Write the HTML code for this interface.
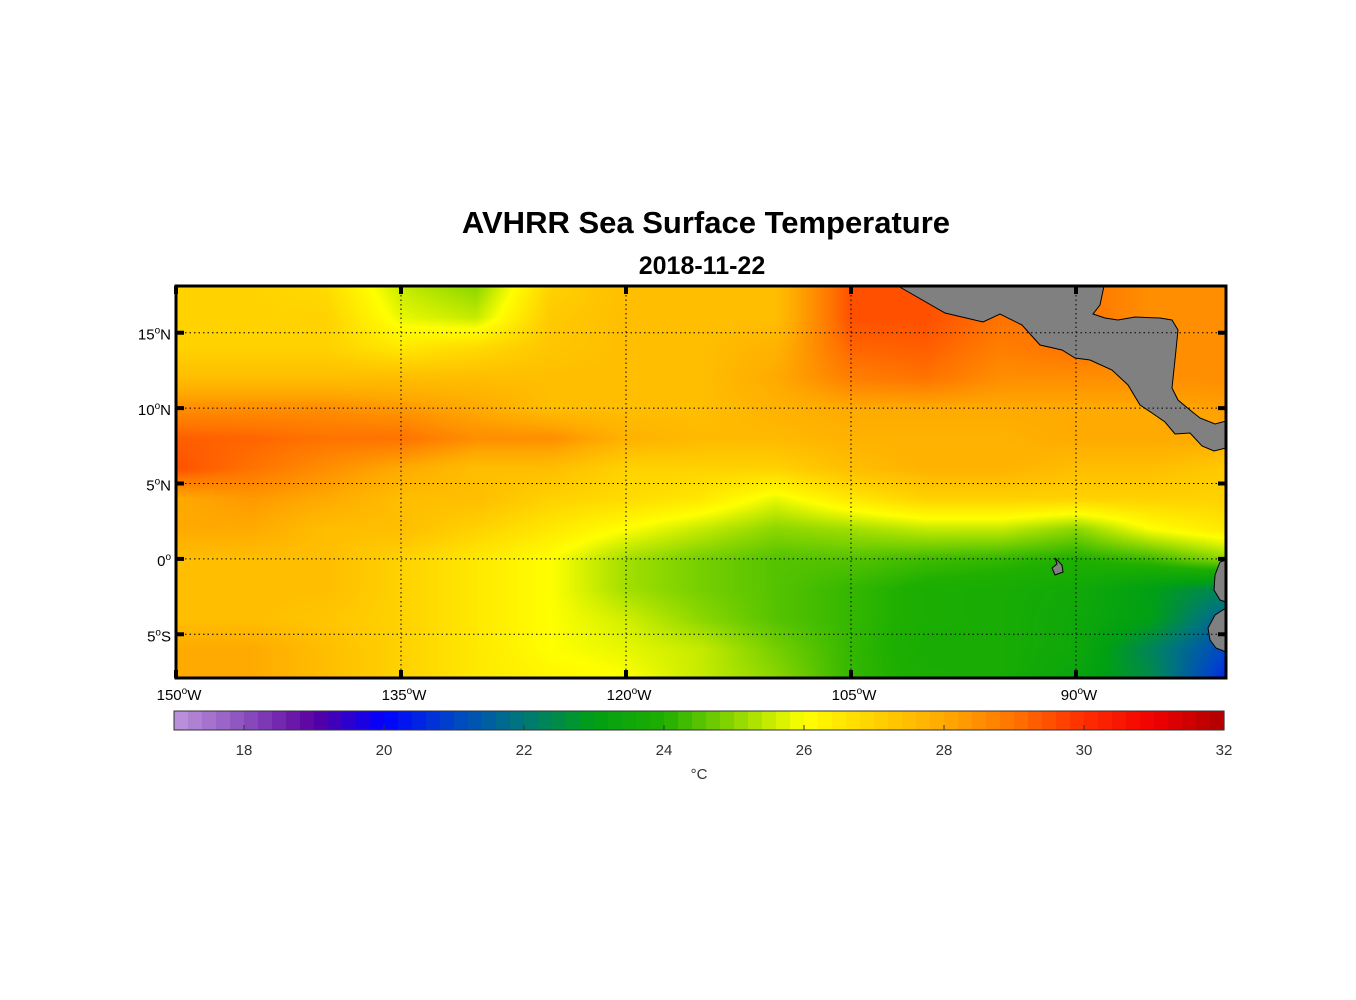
<!DOCTYPE html>
<html><head><meta charset="utf-8">
<style>
body{margin:0;background:#fff;font-family:"Liberation Sans",sans-serif;}
#wrap{position:relative;width:1356px;height:1000px;overflow:hidden;}
.t{position:absolute;color:#000;white-space:nowrap;}
</style></head>
<body><div id="wrap">
<div class="t" style="left:0;width:1412px;text-align:center;top:205px;font-size:31px;font-weight:bold;">AVHRR Sea Surface Temperature</div>
<div class="t" style="left:0;width:1404px;text-align:center;top:252px;font-size:25px;font-weight:bold;">2018-11-22</div>
<canvas id="map" width="1050" height="392" style="position:absolute;left:176px;top:286px;"></canvas>
<svg id="ov" width="1356" height="1000" style="position:absolute;left:0;top:0;"></svg>
</div>
<script>
const lons=[-150,-145,-140,-135,-130,-125,-120,-115,-110,-105,-100,-95,-90,-85,-80];
const lats=[18,16,14,12,10,8,6,4,2,0,-2,-4,-6,-8];
const sst=[
[27,27,26.8,25.5,25,27,27.5,27.5,27.5,29.5,29.5,29,29,28.5,28.5],
[27,27,27,25.8,25.5,27.2,27.5,27.5,27.5,29.5,29.5,29,29,28.5,28.5],
[27,27,27,26.5,26.8,27.3,27.5,27.5,27.8,29.2,29.3,28.8,29,28.5,28.5],
[27.5,27.5,27.5,27.5,27.5,27.5,27.5,27.5,28,28.8,29,28.5,28.5,28.5,28.5],
[28.5,28.5,28.5,28.3,28,27.5,27.5,27.5,27.8,28,28,28,28,28,28.2],
[29.3,29.2,29,29,28.5,28.5,27.8,27.6,27.6,27.8,27.8,27.8,28,28,28],
[29.5,29,28.5,28,27.5,27.5,27,27,27,27.5,27.8,27.8,27.5,27.5,27.2],
[28,28.3,28,27.5,27.5,27,26.8,26.5,25.8,26.5,27,27,27,27,27],
[28,28,27.5,27.5,27,26.5,26,25.5,25,25.2,25.5,25.5,25,26,26.5],
[27.5,27.5,27.5,27,26.5,26,25.2,24.8,24.5,24.5,24.3,24.2,24,24.3,25],
[27.5,27.5,27.5,27,26.5,26,25.2,24.8,24.5,24.2,23.9,23.8,23.6,23,22.3],
[27.5,27.5,27.3,27,26.5,26,25.6,25,24.5,24.2,23.9,23.8,23.5,23,21.5],
[28,28,27.5,27,26.5,26,25.8,25.5,24.8,24.2,23.8,23.8,23.5,22.3,21],
[28,28,27.5,27,26.5,26.2,26,25.5,25,24.2,23.9,23.8,23.3,22.5,20.5]];
const cbTicks=[18,20,22,24,26,28,30,32];
const lonTicks=[-150,-135,-120,-105,-90];
const latTicks=[15,10,5,0,-5];
const stops=[[17,[190,150,220]],[18,[140,80,190]],[19,[90,0,160]],[20,[0,0,255]],[21,[0,70,200]],[22,[0,120,120]],[23,[0,160,20]],[24,[30,175,0]],[25,[140,215,0]],[26,[255,255,0]],[27,[255,210,0]],[28,[255,170,0]],[29,[255,115,0]],[30,[255,45,0]],[31,[240,0,0]],[32,[175,0,0]]];
function col(v){v=Math.max(17,Math.min(32,v));for(let i=0;i<stops.length-1;i++){const a=stops[i],b=stops[i+1];if(v<=b[0]){const t=(v-a[0])/(b[0]-a[0]);return a[1].map((c,k)=>Math.round(c+(b[1][k]-c)*t));}}return stops[stops.length-1][1];}
const X0=176,X1=1226,Y0=286,Y1=678,LON0=-150,LON1=-80,LAT0=18.1,LAT1=-7.9;
const xs=l=>X0+(l-LON0)/(LON1-LON0)*(X1-X0);
const ys=l=>Y0+(LAT0-l)/(LAT0-LAT1)*(Y1-Y0);
const cv=document.getElementById('map'),ctx=cv.getContext('2d'),img=ctx.createImageData(1050,392);
function samp(lon,lat){let fi=(lon-lons[0])/(lons[1]-lons[0]),fj=(lats[0]-lat)/(lats[0]-lats[1]);
fi=Math.max(0,Math.min(lons.length-1.001,fi));fj=Math.max(0,Math.min(lats.length-1.001,fj));
const i=Math.floor(fi),j=Math.floor(fj),u=fi-i,w=fj-j;
return sst[j][i]*(1-u)*(1-w)+sst[j][i+1]*u*(1-w)+sst[j+1][i]*(1-u)*w+sst[j+1][i+1]*u*w;}
for(let py=0;py<392;py++){const lat=LAT0-(py+0.5)/392*(LAT0-LAT1);for(let px=0;px<1050;px++){const lon=LON0+(px+0.5)/1050*(LON1-LON0);const c=col(samp(lon,lat));const k=(py*1050+px)*4;img.data[k]=c[0];img.data[k+1]=c[1];img.data[k+2]=c[2];img.data[k+3]=255;}}
ctx.putImageData(img,0,0);
const ov=document.getElementById('ov'),NS='http://www.w3.org/2000/svg';
function mk(t,a,p){const e=document.createElementNS(NS,t);for(const k in a)e.setAttribute(k,a[k]);(p||ov).appendChild(e);return e;}
const land=[
"898,286 945,313 983,322 1000,314 1022,325 1040,345 1062,350 1075,358 1090,360 1112,370 1128,385 1140,405 1152,413 1165,422 1175,434 1190,433 1202,446 1214,451 1226,448 1226,421 1215,424 1200,418 1190,410 1178,400 1172,388 1176,350 1178,330 1172,320 1160,318 1135,317 1118,320 1105,318 1093,314 1100,305 1104,286",
"1055,558 1062,565 1063,572 1055,575 1052,568 1057,564",
"1226,560 1220,562 1215,575 1214,590 1220,600 1226,602",
"1226,608 1215,615 1208,628 1210,640 1216,648 1226,652"];
const lnames=['central-america','galapagos-island','south-america-coast-north','south-america-coast-south'];
land.forEach((p,i)=>{const e=mk('polygon',{points:p,fill:'#808080',stroke:'#000','stroke-width':1});

});
lonTicks.slice(1).forEach(l=>{const e=mk('line',{x1:xs(l),x2:xs(l),y1:Y0,y2:Y1,stroke:'#000','stroke-width':1,'stroke-dasharray':'1.5 3'});

});
latTicks.forEach(l=>{const e=mk('line',{x1:X0,x2:X1,y1:ys(l),y2:ys(l),stroke:'#000','stroke-width':1,'stroke-dasharray':'1.5 3'});

});
const fr=mk('rect',{x:X0,y:Y0,width:X1-X0,height:Y1-Y0,fill:'none',stroke:'#000','stroke-width':3});


function lab(x,y,txt,sup,suf,anchor,name){const t=mk('text',{x:x,y:y,'font-size':15,'font-family':'Liberation Sans, sans-serif','text-anchor':anchor,fill:'#000'});


const a=mk('tspan',{},t);a.textContent=txt;const b=mk('tspan',{dy:-6,'font-size':10},t);b.textContent=sup;const c=mk('tspan',{dy:6},t);c.textContent=suf;}
lonTicks.forEach(l=>{const x=xs(l);
const e=mk('line',{x1:x,x2:x,y1:Y0,y2:Y0+8,stroke:'#000','stroke-width':4});
const e2=mk('line',{x1:x,x2:x,y1:Y1-8,y2:Y1,stroke:'#000','stroke-width':4});
lab(x+3,700,String(-l),'o','W','middle','lon-tick-label');});
latTicks.forEach(l=>{const y=ys(l);
const e=mk('line',{x1:X0,x2:X0+8,y1:y,y2:y,stroke:'#000','stroke-width':4});
const e2=mk('line',{x1:X1-8,x2:X1,y1:y,y2:y,stroke:'#000','stroke-width':4});
lab(171,y+7,l===0?'0':String(Math.abs(l)),'o',l>0?'N':(l<0?'S':''),'end','lat-tick-label');});
const CB0=174,CB1=1224,CBY=711,CBH=19,V0=17,V1=32;
const cx=v=>CB0+(v-V0)/(V1-V0)*(CB1-CB0);
for(let v=V0;v<V1-0.001;v+=0.2){const c=col(v+0.1);const e=mk('rect',{x:cx(v),y:CBY,width:cx(v+0.2)-cx(v)+0.6,height:CBH,fill:`rgb(${c})`});

}
const cbf=mk('rect',{x:CB0,y:CBY,width:CB1-CB0,height:CBH,fill:'none',stroke:'#333','stroke-width':1});


cbTicks.forEach(v=>{const x=cx(v);
const e=mk('line',{x1:x,x2:x,y1:CBY+CBH-5,y2:CBY+CBH,stroke:'#333'});
const t=mk('text',{x:x,y:755,'font-size':15,'font-family':'Liberation Sans, sans-serif','text-anchor':'middle',fill:'#333'});t.textContent=v;

});
const u=mk('text',{x:699,y:779,'font-size':15,'font-family':'Liberation Sans, sans-serif','text-anchor':'middle',fill:'#333'});u.textContent='°C';


</script></body></html>
